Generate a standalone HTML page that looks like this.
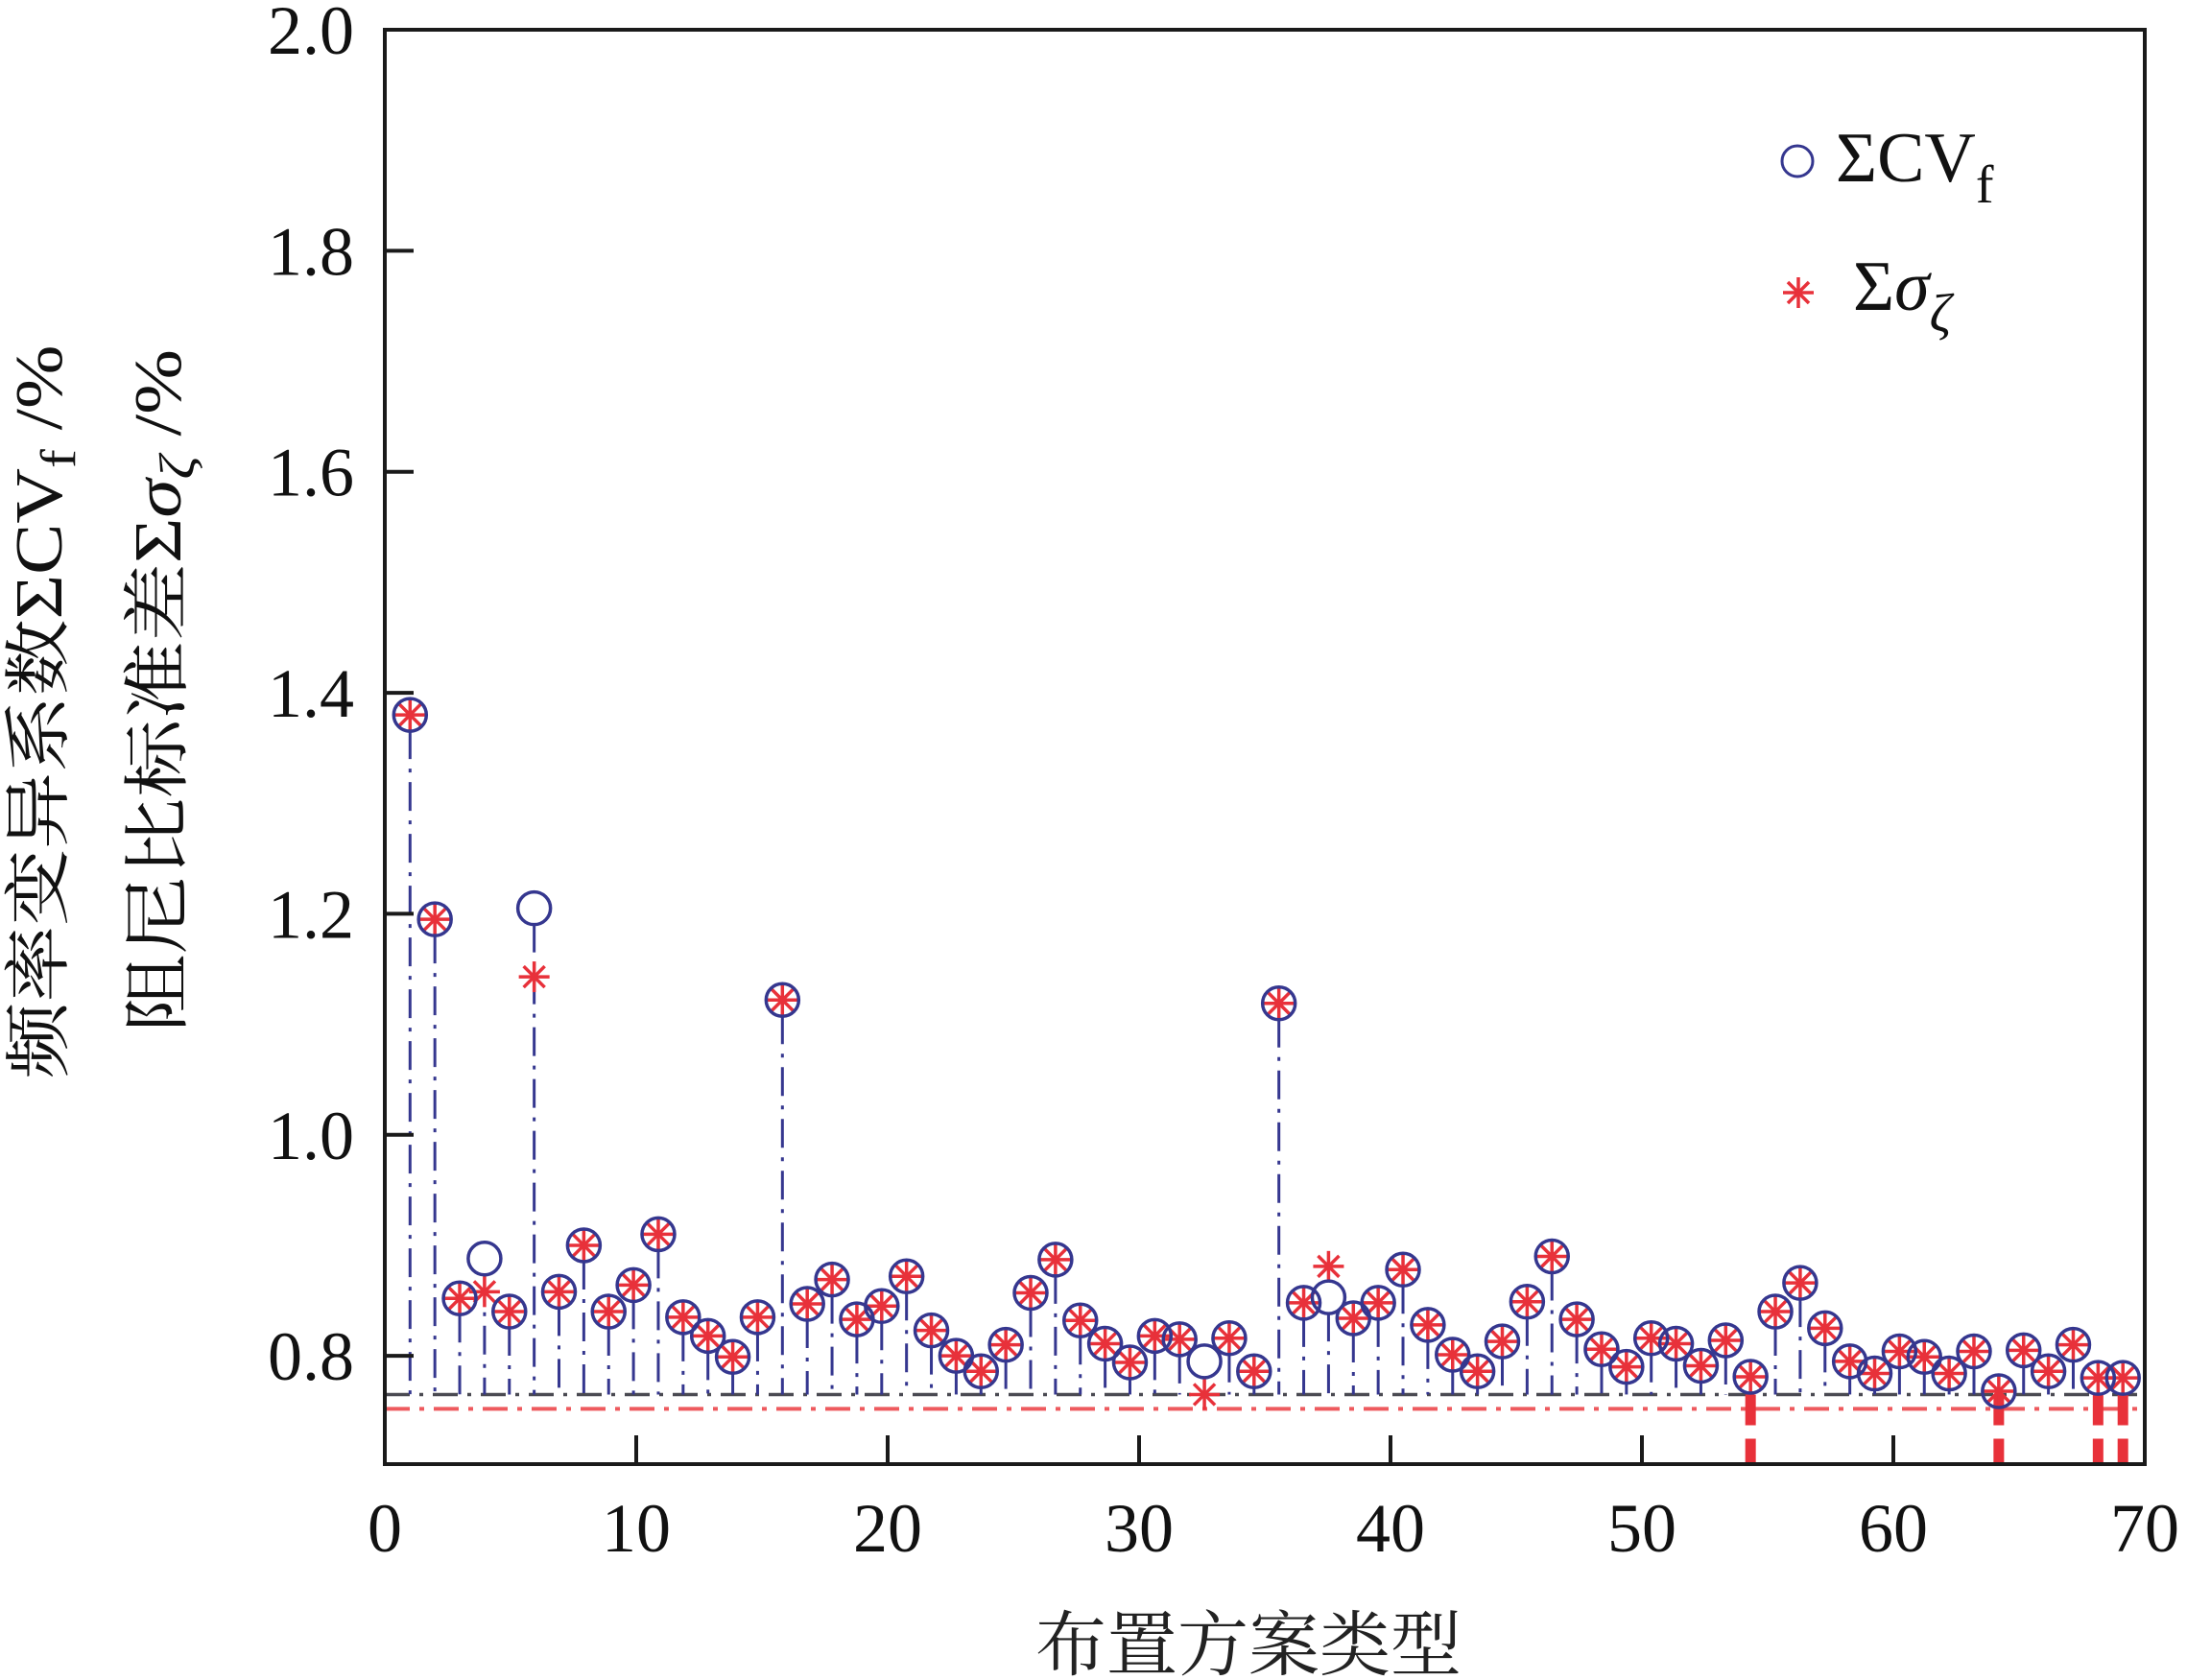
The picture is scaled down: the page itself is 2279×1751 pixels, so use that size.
<!DOCTYPE html>
<html><head><meta charset="utf-8"><style>
html,body{margin:0;padding:0;background:#fff;}
svg{display:block;}
</style></head><body>
<svg id="chart" width="2279" height="1751" viewBox="0 0 2279 1751" xmlns="http://www.w3.org/2000/svg">
<g id="plot"></g>
<g id="axes"></g>
<g>
  <circle cx="1873" cy="168" r="16" fill="none" stroke="#35378f" stroke-width="3"/>
  <text x="1913" y="189" font-family="Liberation Serif, serif" font-size="74" fill="#111">ΣCV<tspan font-size="56" dy="22">f</tspan></text>
  <g stroke="#e8313a" stroke-width="3.5" transform="translate(1874,305)">
    <line x1="-16" y1="0" x2="16" y2="0"/><line x1="0" y1="-16" x2="0" y2="16"/>
    <line x1="-11" y1="-11" x2="11" y2="11"/><line x1="-11" y1="11" x2="11" y2="-11"/>
  </g>
  <text x="1931" y="323" font-family="Liberation Serif, serif" font-size="74" fill="#111">Σ<tspan font-style="italic">σ</tspan><tspan font-size="56" font-style="italic" dy="22">ζ</tspan></text>
</g>
<text transform="translate(64,742) rotate(-90)" text-anchor="middle" font-family="Liberation Serif, 'Noto Serif CJK SC', serif" font-size="70" fill="#111" textLength="765" lengthAdjust="spacingAndGlyphs">频率变异系数ΣCV<tspan font-size="52" dy="14">f</tspan><tspan dy="-14"> /%</tspan></text>
<text transform="translate(188,720) rotate(-90)" text-anchor="middle" font-family="Liberation Serif, 'Noto Serif CJK SC', serif" font-size="70" fill="#111" textLength="712" lengthAdjust="spacingAndGlyphs">阻尼比标准差Σ<tspan font-style="italic">σ</tspan><tspan font-size="52" font-style="italic" dy="14">ζ</tspan><tspan dy="-14"> /%</tspan></text>
<text x="1301" y="1740" text-anchor="middle" font-family="Liberation Serif, 'Noto Serif CJK SC', serif" font-size="74" fill="#222">布置方案类型</text>
</svg>
<script>
const cvValues=[1.380,1.195,0.852,0.888,0.840,1.205,0.858,0.900,0.840,0.864,0.910,0.835,0.818,0.799,0.835,1.122,0.847,0.869,0.833,0.845,0.872,0.823,0.800,0.786,0.810,0.857,0.887,0.832,0.811,0.794,0.818,0.815,0.795,0.816,0.786,1.119,0.848,0.853,0.834,0.848,0.878,0.828,0.801,0.786,0.813,0.849,0.890,0.833,0.806,0.790,0.816,0.811,0.791,0.814,0.781,0.840,0.866,0.825,0.795,0.784,0.804,0.799,0.784,0.804,0.768,0.805,0.786,0.810,0.780,0.780];
const sigmaValues=[1.380,1.195,0.852,0.858,0.840,1.143,0.858,0.900,0.840,0.864,0.910,0.835,0.818,0.799,0.835,1.122,0.847,0.869,0.833,0.845,0.872,0.823,0.800,0.786,0.810,0.857,0.887,0.832,0.811,0.794,0.818,0.815,0.765,0.816,0.786,1.119,0.848,0.881,0.834,0.848,0.878,0.828,0.801,0.786,0.813,0.849,0.890,0.833,0.806,0.790,0.816,0.811,0.791,0.814,0.781,0.840,0.866,0.825,0.795,0.784,0.804,0.799,0.784,0.804,0.768,0.805,0.786,0.810,0.780,0.780];
const redBarIndices=[55,65,69,70];
const yTicks=[0.8,1.0,1.2,1.4,1.6,1.8,2.0];
const yTickLabels=["0.8","1.0","1.2","1.4","1.6","1.8","2.0"];
const xTicks=[0,10,20,30,40,50,60,70];
const xTickLabels=["0","10","20","30","40","50","60","70"];
const cvBaseline=0.765, sigmaBaseline=0.752;

const L=401,R=2235,T=31,B=1526;
const yMin=0.702,yMax=2.0;
function ys(v){return B-(v-yMin)/(yMax-yMin)*(B-T);}
function xs(v){return L+v/70*(R-L);}
// point positions: scheme k placed on the plotted category grid
function px(k){return 427.3+(k-1)*(2212.2-427.3)/69;}

const NS="http://www.w3.org/2000/svg";
const plot=document.getElementById('plot'), axes=document.getElementById('axes');
function mk(tag,attrs,parent){const e=document.createElementNS(NS,tag);for(const k in attrs)e.setAttribute(k,attrs[k]);parent.appendChild(e);return e;}

// baselines
let bl=mk('line',{x1:L,x2:R,y1:ys(cvBaseline),y2:ys(cvBaseline),stroke:'#4a4a52','stroke-width':3.5,'stroke-dasharray':'26 10 4 10'},plot);


let bl2=mk('line',{x1:L,x2:R,y1:ys(sigmaBaseline),y2:ys(sigmaBaseline),stroke:'#ee5a5e','stroke-width':4,'stroke-dasharray':'26 10 5 10'},plot);



// red bars
redBarIndices.forEach(k=>{
  const r=mk('line',{x1:px(k),x2:px(k),y1:ys(cvBaseline),y2:B,stroke:'#e8313a','stroke-width':11,'stroke-dasharray':'32 14 200'},plot);
  
  
});

cvValues.forEach((v,i)=>{
  const k=i+1,x=px(k);
  const s=mk('line',{x1:x,x2:x,y1:ys(v)+16,y2:ys(cvBaseline),stroke:'#35378f','stroke-width':3,'stroke-dasharray':'30 10 4 10'},plot);
  
  
});
sigmaValues.forEach((v,i)=>{
  const k=i+1,x=px(k),y=ys(v);
  const g=mk('g',{transform:`translate(${x},${y})`,stroke:'#e8313a','stroke-width':3.5},plot);
  
  
  [[-16,0,16,0],[0,-16,0,16],[-11,-11,11,11],[-11,11,11,-11]].forEach(a=>mk('line',{x1:a[0],y1:a[1],x2:a[2],y2:a[3]},g));
});
cvValues.forEach((v,i)=>{
  const k=i+1;
  const c=mk('circle',{cx:px(k),cy:ys(v),r:17,fill:'none',stroke:'#35378f','stroke-width':3.5},plot);
  
  
});

// frame
const fr=mk('rect',{x:L,y:T,width:R-L,height:B-T,fill:'none',stroke:'#1a1a1a','stroke-width':4},axes);


yTicks.forEach((t,i)=>{
  const y=ys(t);
  const tk=mk('line',{x1:L,x2:L+30,y1:y,y2:y,stroke:'#1a1a1a','stroke-width':4},axes);
  
  
  const tx=mk('text',{x:369,y:y+25,'text-anchor':'end','font-family':'Liberation Serif, serif','font-size':72,fill:'#111'},axes);
  tx.textContent=yTickLabels[i];
  
  
});
xTicks.forEach((t,i)=>{
  const x=xs(t);
  if(i>0&&i<xTicks.length-1){
    const tk=mk('line',{x1:x,x2:x,y1:B,y2:B-30,stroke:'#1a1a1a','stroke-width':4},axes);
    
    
  }
  const tx=mk('text',{x:x,y:1617,'text-anchor':'middle','font-family':'Liberation Serif, serif','font-size':72,fill:'#111'},axes);
  tx.textContent=xTickLabels[i];
  
  
});
</script>
</body></html>
